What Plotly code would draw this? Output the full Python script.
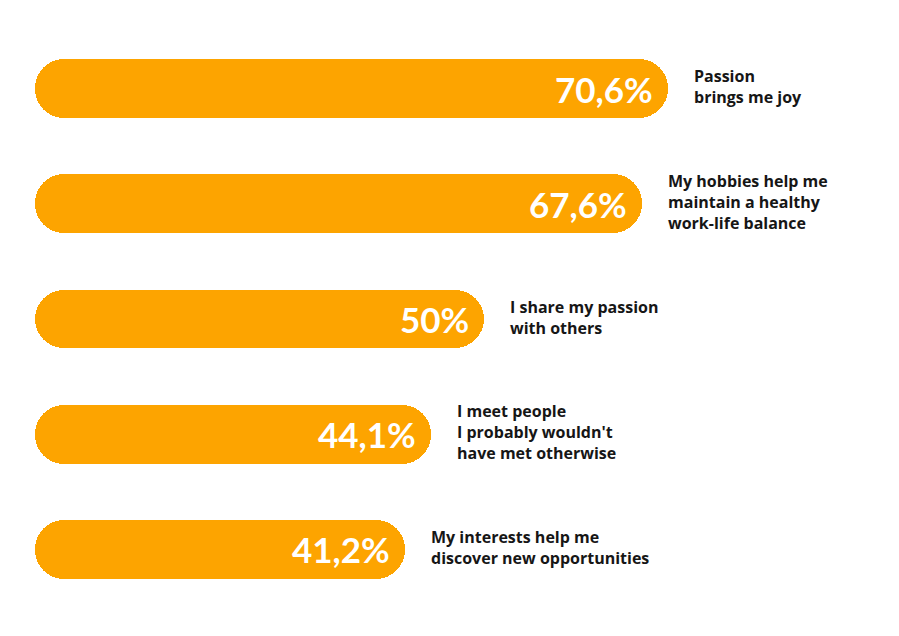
import plotly.graph_objects as go

categories = [
    "Passion<br>brings me joy",
    "My hobbies help me<br>maintain a healthy<br>work-life balance",
    "I share my passion<br>with others",
    "I meet people<br>I probably wouldn't<br>have met otherwise",
    "My interests help me<br>discover new opportunities",
]
values = [70.6, 67.6, 50.0, 44.1, 41.2]
value_labels = ["70,6%", "67,6%", "50%", "44,1%", "41,2%"]

ORANGE = "#FDA400"
ypos = list(range(len(values)))

fig = go.Figure()
# bar from 0 to value: rounded at right end
fig.add_trace(go.Bar(
    y=ypos, x=values, base=[0] * len(values), orientation="h",
    marker=dict(color=ORANGE, cornerradius="50%", line=dict(width=0)),
    width=0.512, hoverinfo="skip", showlegend=False,
))
# bar from value back to 0: rounded at left end
fig.add_trace(go.Bar(
    y=ypos, x=[-v for v in values], base=values, orientation="h",
    marker=dict(color=ORANGE, cornerradius="50%", line=dict(width=0)),
    width=0.512, hoverinfo="skip", showlegend=False,
))

annotations = []
for i, (v, vl, cat) in enumerate(zip(values, value_labels, categories)):
    annotations.append(dict(
        x=v, y=i, xref="x", yref="y", text=vl, showarrow=False,
        xanchor="right", yanchor="middle", xshift=-14, borderpad=0,
        font=dict(family="Lato", size=35, color="white", weight="bold"),
    ))
    annotations.append(dict(
        x=v, y=i, xref="x", yref="y", text=cat, showarrow=False,
        xanchor="left", yanchor="middle", xshift=25, yshift=2, borderpad=0,
        align="left",
        font=dict(family="Open Sans", size=16, color="#161616", weight="bold"),
    ))

fig.update_layout(
    width=891, height=628,
    margin=dict(l=27, r=0, t=23, b=29),
    barmode="overlay",
    plot_bgcolor="white", paper_bgcolor="white",
    xaxis=dict(range=[0, 96.3], visible=False, showgrid=False, zeroline=False),
    yaxis=dict(range=[4.5, -0.5], visible=False, showgrid=False, zeroline=False),
    annotations=annotations,
    bargap=0,
)

fig.write_html("out.html")
